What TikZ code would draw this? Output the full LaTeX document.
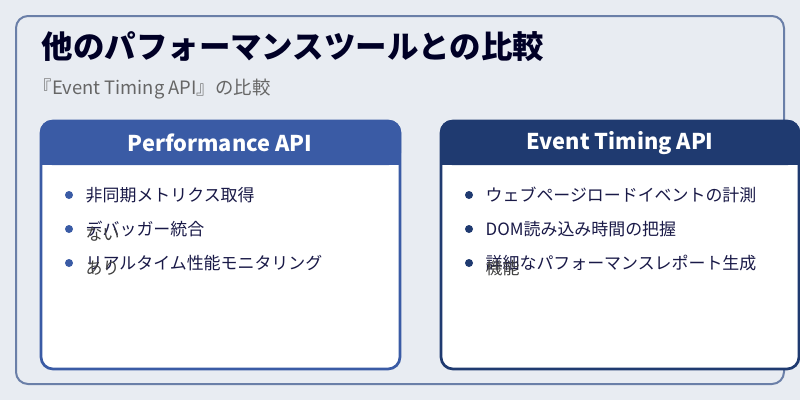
\documentclass[tikz,border=0pt]{standalone}
\usepackage{fontspec}
\setmainfont{Noto Sans CJK JP}
\begin{document}
\begin{tikzpicture}[x=0.75pt,y=-0.75pt,
 item/.style={anchor=west,font=\fontsize{12.7}{14}\selectfont,text=black!80!blue!90},
 ovl/.style={anchor=west,font=\fontsize{12.7}{14}\selectfont,text=black!75},
 dot/.style={circle,inner sep=0pt,minimum size=6pt}]
\definecolor{bg}{HTML}{E8ECF2}\definecolor{frame}{HTML}{6A7FA8}
\definecolor{lb}{HTML}{3A5BA5}\definecolor{rb}{HTML}{1F3A70}
\useasboundingbox (0,0) rectangle (800,400);
\fill[bg] (0,0) rectangle (800,400);
\draw[frame,line width=1.5pt,rounded corners=9pt] (16,16) rectangle (784,384);
\node[anchor=west,font=\bfseries\fontsize{23.6}{26}\selectfont,text=black!85!blue] (title) at (37,47) {他のパフォーマンスツールとの比較};
\node[anchor=west,font=\fontsize{13.8}{16}\selectfont,text=black!60] (sub) at (29,89) {『Event Timing API』の比較};
% left card
\draw[lb,fill=white,line width=2pt,rounded corners=9pt] (41,121) rectangle (400,369);
\fill[lb,rounded corners=9pt] (40,120) rectangle (401,165);
\fill[lb] (40,150) rectangle (401,165);
\node[font=\bfseries\fontsize{16.3}{19}\selectfont,text=white] (lh) at (220,143) {Performance API};
% right card
\draw[rb,fill=white,line width=2pt,rounded corners=9pt] (441,121) rectangle (799,369);
\fill[rb,rounded corners=9pt] (440,120) rectangle (800,165);
\fill[rb] (440,150) rectangle (800,165);
\node[font=\bfseries\fontsize{16.3}{19}\selectfont,text=white] (rh) at (620,143) {Event Timing API};
\foreach \y/\t [count=\i] in {195/非同期メトリクス取得,229/デバッガー統合,263/リアルタイム性能モニタリング}{
 \node[dot,fill=lb] (ld\i) at (69,\y) {};
 \node[item] (lt\i) at (81,\y) {\t};}
\foreach \y/\t [count=\i] in {195/ウェブページロードイベントの計測,229/DOM読み込み時間の把握,263/詳細なパフォーマンスレポート生成}{
 \node[dot,fill=rb] (rd\i) at (469,\y) {};
 \node[item] (rt\i) at (481,\y) {\t};}
\node[ovl] (o1) at (81,234) {ない};
\node[ovl] (o2) at (81,268) {あり};
\node[ovl] (o3) at (481,268) {機能};
\end{tikzpicture}
\end{document}
